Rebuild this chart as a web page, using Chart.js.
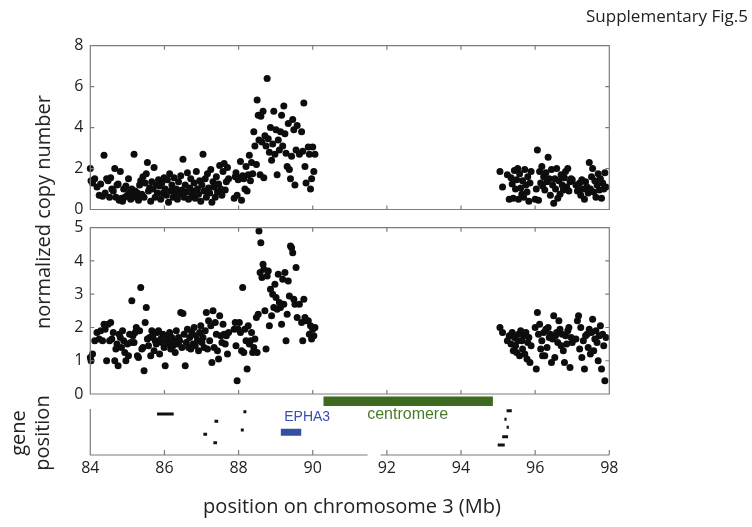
<!DOCTYPE html>
<html>
<head>
<meta charset="utf-8">
<script src="https://cdn.jsdelivr.net/npm/chart.js@4.4.1/dist/chart.umd.min.js"></script>
<style>
  body { margin: 0; background: #fff; }
  #wrap { position: relative; width: 752px; height: 527px; font-family: "Open Sans", sans-serif; color: #222; }
  #wrap canvas { position: absolute; left: 0; top: 0; }
  .txt { position: absolute; white-space: nowrap; line-height: 1; }
  .rot { transform: translate(-50%, -50%) rotate(-90deg); }
</style>
</head>
<body>
<div id="wrap">
  <canvas id="topChart" width="752" height="527"></canvas>
  <canvas id="midChart" width="752" height="527"></canvas>
  <canvas id="geneChart" width="752" height="527"></canvas>
  <div class="txt" style="right:4px; top:7px; font-size:17px;">Supplementary Fig.5</div>
  <div class="txt rot" style="left:43px; top:212px; font-size:20px;">normalized copy number</div>
  <div class="txt rot" style="left:18px; top:433px; font-size:20px;">gene</div>
  <div class="txt rot" style="left:42px; top:433px; font-size:20px;">position</div>
  <div class="txt" style="left:352px; top:496px; font-size:20px; transform:translateX(-50%);">position on chromosome 3 (Mb)</div>
</div>
<script>
// probe positions on chr3 (Mb)
const positions = [
  84.00,84.02,84.06,84.12,84.18,84.24,84.28,84.33,84.37,84.40,
  84.44,84.48,84.52,84.55,84.58,84.62,84.66,84.69,84.72,84.75,
  84.78,84.81,84.84,84.87,84.90,84.93,84.96,85.00,85.03,85.06,
  85.09,85.12,85.15,85.18,85.21,85.24,85.27,85.30,85.33,85.36,
  85.39,85.42,85.45,85.48,85.51,85.54,85.57,85.60,85.63,85.66,
  85.69,85.72,85.75,85.78,85.81,85.84,85.87,85.90,85.93,85.96,
  85.99,86.02,86.05,86.08,86.11,86.14,86.17,86.20,86.23,86.26,
  86.29,86.32,86.35,86.38,86.41,86.44,86.47,86.50,86.53,86.56,
  86.59,86.62,86.65,86.68,86.71,86.74,86.77,86.80,86.83,86.86,
  86.89,86.92,86.95,86.98,87.01,87.04,87.07,87.10,87.13,87.16,
  87.19,87.22,87.25,87.28,87.31,87.34,87.37,87.40,87.43,87.46,
  87.49,87.52,87.55,87.58,87.61,87.64,87.67,87.70,87.73,87.88,
  87.91,87.93,87.96,87.99,88.02,88.05,88.08,88.11,88.14,88.17,
  88.20,88.23,88.26,88.29,88.32,88.35,88.38,88.41,88.44,88.48,
  88.50,88.53,88.55,88.58,88.60,88.63,88.66,88.68,88.71,88.74,
  88.77,88.80,88.83,88.86,88.89,88.92,88.95,88.98,89.01,89.04,
  89.07,89.10,89.13,89.16,89.19,89.22,89.25,89.28,89.31,89.34,
  89.37,89.40,89.43,89.46,89.49,89.52,89.55,89.58,89.64,89.70,
  89.73,89.76,89.79,89.82,89.88,89.91,89.94,89.97,90.00,90.03,
  90.06,
  95.05,95.12,95.25,95.30,95.35,95.38,95.41,95.44,95.47,95.50,
  95.53,95.55,95.58,95.61,95.64,95.66,95.69,95.72,95.75,95.78,
  95.80,95.83,95.86,95.89,96.00,96.03,96.06,96.09,96.12,96.15,
  96.18,96.20,96.23,96.26,96.29,96.32,96.35,96.38,96.41,96.44,
  96.47,96.50,96.53,96.55,96.58,96.61,96.64,96.67,96.70,96.73,
  96.76,96.79,96.82,96.85,96.88,96.91,96.94,96.97,97.00,97.10,
  97.14,97.17,97.20,97.23,97.26,97.30,97.33,97.36,97.40,97.43,
  97.46,97.49,97.52,97.55,97.58,97.61,97.64,97.67,97.70,97.73,
  97.76,97.79,97.82,97.85,97.88,97.91
];

// upper panel copy number
const copyTop = [
  2.0,1.4,1.3,1.5,1.1,0.7,1.25,0.65,2.65,0.8,
  1.5,1.4,0.6,1.55,1.0,0.9,2.0,0.6,1.2,1.25,
  0.45,1.85,0.55,0.4,1.0,0.6,1.15,0.7,1.5,0.85,
  0.5,1.0,0.75,2.7,0.9,0.6,0.8,0.45,1.2,1.4,
  0.75,1.6,0.6,1.3,1.75,2.3,0.9,1.05,0.4,1.35,
  1.0,2.05,0.6,1.2,0.8,1.45,1.15,0.5,1.3,0.8,
  1.55,1.0,0.7,1.45,0.35,1.75,0.9,1.2,0.6,1.55,
  0.8,1.0,0.5,1.35,0.75,1.65,0.95,2.45,0.6,1.2,
  0.85,1.8,0.5,1.05,1.5,0.7,0.9,1.3,0.55,1.85,
  1.0,0.75,1.4,0.4,1.2,2.7,0.9,1.5,0.6,1.75,
  1.05,0.8,1.95,0.35,1.35,1.1,0.6,1.6,0.85,1.25,
  2.15,1.0,0.7,1.85,2.25,0.95,1.35,2.05,1.5,0.55,
  1.6,1.8,0.7,1.45,1.55,2.35,0.45,1.65,1.5,1.0,
  2.1,0.9,1.7,2.65,1.4,2.3,1.75,3.8,3.1,2.2,
  5.35,4.6,3.4,1.7,4.55,3.3,4.8,1.55,3.6,3.1,
  6.4,3.45,2.8,4.0,2.4,3.2,4.8,2.7,3.9,1.7,
  3.4,2.9,3.8,4.6,3.1,5.05,3.7,2.75,2.1,4.2,
  1.95,1.5,2.6,4.4,3.9,1.2,2.9,4.1,2.7,3.8,
  2.85,5.2,2.1,1.3,3.05,2.7,1.0,1.5,3.05,1.85,
  2.7,
  1.85,1.1,1.7,0.5,1.55,1.25,0.55,1.9,1.0,1.45,
  2.0,0.5,1.75,1.05,0.75,1.4,0.6,1.95,1.2,0.85,
  1.6,0.4,1.3,1.85,0.5,1.0,2.9,0.45,1.85,1.3,
  2.1,1.15,1.6,0.95,1.8,1.35,2.55,1.5,0.7,1.95,
  1.2,0.3,1.5,1.0,2.0,0.55,1.4,0.75,1.7,1.2,
  0.95,1.55,1.85,1.1,2.0,0.9,1.35,1.5,1.45,1.2,
  0.9,1.0,1.3,0.7,1.45,1.0,0.5,1.35,1.1,0.8,
  2.3,1.0,1.6,2.0,0.85,1.4,0.6,1.2,1.75,0.95,
  1.5,0.55,1.3,1.0,1.8,1.1
];

// lower panel copy number
const copyBottom = [
  1.1,1.0,1.2,1.6,1.85,1.65,1.9,1.6,2.1,1.95,
  1.0,2.1,1.6,2.15,1.65,1.85,1.0,1.35,1.5,0.85,
  1.8,1.7,1.4,1.9,1.6,1.25,1.0,1.5,1.15,1.8,
  1.55,2.8,1.75,1.55,1.85,2.0,1.15,1.1,1.9,3.2,
  1.35,1.4,0.7,2.15,2.6,1.65,1.45,1.7,1.15,1.9,
  1.75,1.3,1.6,1.5,1.85,1.9,1.2,1.65,1.55,1.8,
  1.4,0.85,1.75,1.6,1.5,1.85,1.35,1.7,1.45,1.6,
  1.25,1.9,1.5,1.7,1.6,2.45,1.4,2.42,1.8,0.85,
  1.55,1.95,1.4,1.7,1.35,1.85,1.5,2.0,1.45,1.75,
  1.6,1.3,1.85,2.05,1.55,1.7,1.4,1.9,2.45,1.35,
  2.2,1.6,2.05,0.95,2.5,1.4,2.15,1.8,1.3,1.05,
  2.35,1.75,1.55,2.1,1.8,1.5,1.75,1.2,1.85,1.95,
  2.15,1.45,0.4,1.95,2.15,1.85,1.3,3.2,1.25,1.95,
  1.6,0.75,2.05,1.5,1.6,1.85,1.25,1.4,1.65,2.3,
  1.25,2.4,4.9,3.65,4.55,3.5,3.9,3.75,2.5,1.35,
  3.55,3.7,2.05,3.15,2.35,3.0,2.6,3.3,2.9,2.55,
  3.6,2.75,2.6,2.1,3.45,2.7,3.65,1.6,2.4,3.4,
  2.95,4.45,4.4,4.25,2.85,2.7,3.8,2.3,2.7,2.15,
  1.6,2.85,2.3,2.2,2.2,1.8,2.05,1.65,1.95,1.75,
  2.0,
  2.0,1.85,1.6,1.75,1.5,1.85,1.3,1.7,1.45,1.25,
  1.6,1.8,1.15,1.9,1.6,1.35,1.75,1.2,1.85,1.05,
  1.55,1.7,0.95,1.45,2.0,0.75,2.45,1.8,2.1,1.35,
  1.6,1.15,1.85,1.15,1.95,1.4,2.0,1.7,1.8,0.95,
  1.65,2.35,1.1,1.75,1.85,1.55,2.2,1.95,1.45,1.8,
  1.3,0.95,1.75,1.5,1.9,2.0,0.8,1.7,1.55,1.65,
  2.2,2.35,1.35,2.0,1.1,1.6,0.75,1.75,1.8,1.4,
  1.95,1.2,1.85,2.25,1.3,1.65,1.9,1.55,1.0,1.75,
  2.05,0.75,1.8,1.45,0.4,1.7
];

// tick values
const xTicks = [84, 86, 88, 90, 92, 94, 96, 98];
const yTicksTop = [0, 2, 4, 6, 8];
const yTicksBottom = [0, 1, 2, 3, 4, 5];

// gene track (start, end in Mb, row in track units)
const geneStart = [85.80, 87.35, 87.05, 87.32, 88.13, 88.06, 95.23, 95.17, 95.23, 95.11, 94.99];
const geneEnd   = [86.25, 87.45, 87.15, 87.42, 88.21, 88.14, 95.37, 95.23, 95.29, 95.27, 95.18];
const geneRow   = [8.2, 6.74, 4.14, 2.46, 8.66, 5.0, 8.86, 7.14, 5.54, 3.66, 2.0];
const epha3 = { start: 89.14, end: 89.69, row: 4.54 };
const centromere = { start: 90.29, end: 94.86, row: 10.74 };

const W = 752, H = 527;
const plotLeft = 90.3, plotRight = 609.3;
const axisColor = '#7d7d7d';
const textColor = '#222';
const tickFont = { family: 'Open Sans', size: 16 };

// draws MATLAB-like axes: box with inward ticks, or the open gene-track axes
const framePlugin = {
  id: 'frame',
  afterDatasetsDraw(chart, args, opts) {
    const { ctx, chartArea: a, scales } = chart;
    const xs = scales.x, ys = scales.y;
    ctx.save();
    ctx.strokeStyle = axisColor;
    ctx.lineWidth = 1.2;
    ctx.beginPath();
    if (opts.mode === 'box') {
      ctx.rect(a.left, a.top, a.right - a.left, a.bottom - a.top);
      xTicks.forEach(v => {
        const px = xs.getPixelForValue(v);
        ctx.moveTo(px, a.top); ctx.lineTo(px, a.top + 4);
        ctx.moveTo(px, a.bottom); ctx.lineTo(px, a.bottom - 4);
      });
      opts.yTicks.forEach(v => {
        const py = ys.getPixelForValue(v);
        ctx.moveTo(a.left, py); ctx.lineTo(a.left + 4, py);
        ctx.moveTo(a.right, py); ctx.lineTo(a.right - 4, py);
      });
    } else {
      const yTop = ys.getPixelForValue(opts.axisTop);
      const g0 = xs.getPixelForValue(opts.gap[0]);
      const g1 = xs.getPixelForValue(opts.gap[1]);
      ctx.moveTo(a.left, yTop); ctx.lineTo(a.left, a.bottom);
      ctx.lineTo(g0, a.bottom);
      ctx.moveTo(g1, a.bottom); ctx.lineTo(a.right, a.bottom);
      xTicks.forEach(v => {
        const px = xs.getPixelForValue(v);
        ctx.moveTo(px, a.bottom); ctx.lineTo(px, a.bottom - 5);
      });
    }
    ctx.stroke();
    ctx.restore();
  }
};

// text labels placed at data coordinates in the gene track
const labelPlugin = {
  id: 'geneLabels',
  afterDatasetsDraw(chart, args, opts) {
    const { ctx, scales } = chart;
    ctx.save();
    ctx.textAlign = 'center';
    ctx.textBaseline = 'middle';
    opts.items.forEach(it => {
      ctx.font = it.size + 'px "Liberation Sans", Arial, sans-serif';
      ctx.fillStyle = it.color;
      ctx.fillText(it.text, scales.x.getPixelForValue(it.x), scales.y.getPixelForValue(it.y));
    });
    ctx.restore();
  }
};

function copyChart(id, values, yMax, yTicks, top, bottom) {
  new Chart(document.getElementById(id), {
    type: 'scatter',
    data: {
      datasets: [{
        data: positions.map((p, i) => ({ x: p, y: values[i] })),
        pointRadius: 3.5,
        pointBackgroundColor: '#0d0d0d',
        pointBorderWidth: 0,
        clip: false
      }]
    },
    options: {
      responsive: false,
      animation: false,
      devicePixelRatio: 1,
      layout: { padding: { left: 0, right: W - plotRight, top: top, bottom: H - bottom } },
      plugins: {
        legend: { display: false },
        tooltip: { enabled: false },
        frame: { mode: 'box', yTicks: yTicks }
      },
      scales: {
        x: { type: 'linear', min: 84, max: 98, display: false },
        y: {
          min: 0, max: yMax,
          afterBuildTicks: s => { s.ticks = yTicks.map(v => ({ value: v })); },
          afterFit: s => { s.width = plotLeft; },
          grid: { display: false, drawTicks: false },
          border: { display: false },
          ticks: { padding: 7, font: tickFont, color: textColor }
        }
      }
    },
    plugins: [framePlugin]
  });
}

copyChart('topChart', copyTop, 8, yTicksTop, 45.7, 209.5);
copyChart('midChart', copyBottom, 5, yTicksBottom, 227.7, 394);

// gene track
const geneSets = geneStart.map((s, i) => ({
  type: 'line',
  data: [{ x: s, y: geneRow[i] }, { x: geneEnd[i], y: geneRow[i] }],
  borderColor: '#111',
  borderWidth: 3,
  borderCapStyle: 'butt',
  pointRadius: 0
}));
geneSets.push({
  type: 'line',
  data: [{ x: epha3.start, y: epha3.row }, { x: epha3.end, y: epha3.row }],
  borderColor: '#3550a3',
  borderWidth: 7,
  borderCapStyle: 'butt',
  pointRadius: 0
});
geneSets.push({
  type: 'line',
  data: [{ x: centromere.start, y: centromere.row }, { x: centromere.end, y: centromere.row }],
  borderColor: '#3e6a1f',
  borderWidth: 9.5,
  borderCapStyle: 'butt',
  pointRadius: 0
});

new Chart(document.getElementById('geneChart'), {
  type: 'line',
  data: { datasets: geneSets },
  options: {
    responsive: false,
    animation: false,
    devicePixelRatio: 1,
    layout: { padding: { left: plotLeft, right: W - plotRight, top: 395, bottom: H - 455 - 30 } },
    plugins: {
      legend: { display: false },
      tooltip: { enabled: false },
      frame: { mode: 'open', axisTop: 9.2, gap: [91.48, 91.83] },
      geneLabels: {
        items: [
          { text: 'EPHA3', x: 89.85, y: 7.66, size: 14, color: '#3a4fae' },
          { text: 'centromere', x: 92.56, y: 8.0, size: 16, color: '#4b7a2b' }
        ]
      }
    },
    scales: {
      x: {
        type: 'linear', min: 84, max: 98,
        afterBuildTicks: s => { s.ticks = xTicks.map(v => ({ value: v })); },
        afterFit: s => { s.height = 30; },
        grid: { display: false, drawTicks: false },
        border: { display: false },
        ticks: { padding: 4, font: tickFont, color: textColor, maxRotation: 0 }
      },
      y: { min: 0, max: 12, display: false }
    }
  },
  plugins: [framePlugin, labelPlugin]
});
</script>
</body>
</html>
